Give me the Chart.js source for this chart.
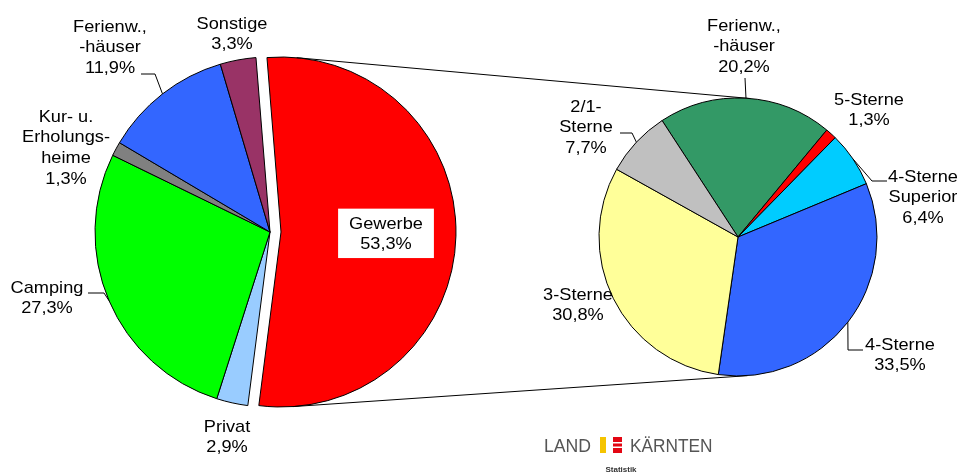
<!DOCTYPE html>
<html>
<head>
<meta charset="utf-8">
<script src="https://cdn.jsdelivr.net/npm/chart.js@4.4.1/dist/chart.umd.min.js"></script>
<style>
  html, body { margin:0; padding:0; background:#fff; }
  #wrap { position:relative; width:960px; height:475px; overflow:hidden; }
  #wrap canvas { position:absolute; left:0; top:0; }
</style>
</head>
<body>
<div id="wrap">
  <canvas id="cLeft" width="960" height="475"></canvas>
  <canvas id="cLeftX" width="960" height="475"></canvas>
  <canvas id="cRight" width="960" height="475"></canvas>
</div>
<script>
// ---------- DATA ----------
const leftCategories = ["Gewerbe", "Privat", "Camping", "Kur- u. Erholungsheime", "Ferienw., -häuser", "Sonstige"];
const leftValues = [53.3, 2.9, 27.3, 1.3, 11.9, 3.3];
const leftLabelLines = [
  ["Gewerbe", "53,3%"],
  ["Privat", "2,9%"],
  ["Camping", "27,3%"],
  ["Kur- u.", "Erholungs-", "heime", "1,3%"],
  ["Ferienw.,", "-häuser", "11,9%"],
  ["Sonstige", "3,3%"]
];
const leftColors = ["#FF0000", "#99CCFF", "#00FF00", "#808080", "#3366FF", "#993366"];

const rightCategories = ["Ferienw., -häuser", "5-Sterne", "4-Sterne Superior", "4-Sterne", "3-Sterne", "2/1-Sterne"];
const rightValues = [20.2, 1.3, 6.4, 33.5, 30.8, 7.7];
const rightLabelLines = [
  ["Ferienw.,", "-häuser", "20,2%"],
  ["5-Sterne", "1,3%"],
  ["4-Sterne", "Superior", "6,4%"],
  ["4-Sterne", "33,5%"],
  ["3-Sterne", "30,8%"],
  ["2/1-", "Sterne", "7,7%"]
];
const rightColors = ["#339966", "#FF0000", "#00CCFF", "#3366FF", "#FFFF99", "#C0C0C0"];

// ---------- LAYOUT (positions only) ----------
const LEFT_CX = 270, LEFT_CY = 232, LEFT_R = 175, EXPLODE = 11;
const RIGHT_CX = 738, RIGHT_CY = 237, RIGHT_R = 139;
const FONT_PX = 17, LINE_H = 20.7, XSCALE = 1.07;
// label block: centre x, first-line y, leader (elbow x,y, end x) or null
const leftLabelPos = [
  {x:386, y:224, box:true},
  {x:227, y:427},
  {x:47,  y:288, leader:{ex:104, ey:293, hx:88}},
  {x:66,  y:117},
  {x:110, y:27,  leader:{ex:155, ey:74, hx:141}},
  {x:232, y:24}
];
const rightLabelPos = [
  {x:744, y:26,  leader:{ex:745, ey:78, hx:745}},
  {x:869, y:100},
  {x:923, y:177, leader:{ex:872, ey:181, hx:887}},
  {x:900, y:345, leader:{ex:848, ey:350, hx:863}},
  {x:578, y:295},
  {x:586, y:107, leader:{ex:632, ey:133, hx:620}}
];

function padFor(cx, cy, r) {
  const h = r + 6;
  return {left: cx - h, right: 960 - (cx + h), top: cy - h, bottom: 475 - (cy + h)};
}

function drawText(ctx, line, x, y, font) {
  ctx.save();
  ctx.translate(x, y);
  ctx.scale(XSCALE, 1);
  ctx.font = font;
  ctx.fillText(line, 0, 0);
  ctx.restore();
}

// getArcs returns the arc elements whose geometry anchors the leader lines
function labelPlugin(lines, pos, getArcs) {
  return {
    id: 'labels',
    afterDatasetsDraw(chart) {
      const ctx = chart.ctx;
      const arcs = getArcs ? getArcs() : chart.getDatasetMeta(0).data;
      ctx.save();
      arcs.forEach((arc, i) => {
        const p = pos[i];
        const ls = lines[i];
        if (p.leader) {
          const mid = (arc.startAngle + arc.endAngle) / 2;
          const px = arc.x + Math.cos(mid) * arc.outerRadius;
          const py = arc.y + Math.sin(mid) * arc.outerRadius;
          ctx.strokeStyle = '#000';
          ctx.lineWidth = 1;
          ctx.beginPath();
          ctx.moveTo(px, py);
          ctx.lineTo(p.leader.ex, p.leader.ey);
          ctx.lineTo(p.leader.hx, p.leader.ey);
          ctx.stroke();
        }
        const font = FONT_PX + 'px "Liberation Sans", Arial, sans-serif';
        if (p.box) {
          ctx.font = font;
          let w = 0;
          ls.forEach(l => { w = Math.max(w, ctx.measureText(l).width * XSCALE); });
          const bw = w + 22, bh = ls.length * LINE_H + 8;
          ctx.fillStyle = '#fff';
          ctx.fillRect(p.x - bw / 2, p.y - LINE_H / 2 - 5, bw, bh);
        }
        ctx.fillStyle = '#000';
        ctx.textAlign = 'center';
        ctx.textBaseline = 'middle';
        ls.forEach((l, k) => drawText(ctx, l, p.x, p.y + k * LINE_H, font));
      });
      ctx.restore();
    }
  };
}

Chart.defaults.animation = false;
Chart.defaults.responsive = false;
Chart.defaults.plugins.legend.display = false;
Chart.defaults.plugins.tooltip.enabled = false;

// Left pie: all slices except the exploded one
const chartLeft = new Chart(document.getElementById('cLeft'), {
  type: 'pie',
  data: {
    labels: leftCategories,
    datasets: [{
      data: leftValues,
      backgroundColor: c => c.dataIndex === 0 ? 'rgba(0,0,0,0)' : leftColors[c.dataIndex],
      borderColor: c => c.dataIndex === 0 ? 'rgba(0,0,0,0)' : '#000',
      borderWidth: 1,
      radius: LEFT_R,
      rotation: -4.6
    }]
  },
  options: { layout: { padding: padFor(LEFT_CX, LEFT_CY, LEFT_R) } }
});

// Left pie: exploded slice, same data, centre shifted outwards
const chartLeftX = new Chart(document.getElementById('cLeftX'), {
  type: 'pie',
  data: {
    labels: leftCategories,
    datasets: [{
      data: leftValues,
      backgroundColor: c => c.dataIndex === 0 ? leftColors[0] : 'rgba(0,0,0,0)',
      borderColor: c => c.dataIndex === 0 ? '#000' : 'rgba(0,0,0,0)',
      borderWidth: 1,
      radius: LEFT_R,
      rotation: -4.6
    }]
  },
  options: { layout: { padding: padFor(LEFT_CX + EXPLODE, LEFT_CY, LEFT_R) } },
  plugins: [labelPlugin(leftLabelLines, leftLabelPos, () => chartLeft.getDatasetMeta(0).data)]
});

// connector lines: external tangents between exploded slice circle and right pie
const connectorPlugin = {
  id: 'connectors',
  beforeDatasetsDraw(chart) {
    const a = chartLeftX.getDatasetMeta(0).data[0];
    const b = chart.getDatasetMeta(0).data[0];
    const dx = b.x - a.x, dy = b.y - a.y, d = Math.hypot(dx, dy);
    const base = Math.atan2(dy, dx);
    const phi = Math.acos((a.outerRadius - b.outerRadius) / d);
    const ctx = chart.ctx;
    ctx.save();
    ctx.strokeStyle = '#000';
    ctx.lineWidth = 1;
    [base - phi, base + phi].forEach(t => {
      const nx = Math.cos(t), ny = Math.sin(t);
      ctx.beginPath();
      ctx.moveTo(a.x + nx * a.outerRadius, a.y + ny * a.outerRadius);
      ctx.lineTo(b.x + nx * b.outerRadius, b.y + ny * b.outerRadius);
      ctx.stroke();
    });
    ctx.restore();
  }
};

const logoPlugin = {
  id: 'logo',
  afterDraw(chart) {
    const ctx = chart.ctx;
    ctx.save();
    ctx.fillStyle = '#555';
    ctx.textBaseline = 'middle';
    ctx.textAlign = 'left';
    ctx.font = '18px "Liberation Sans", Arial, sans-serif';
    ctx.save(); ctx.translate(544, 447); ctx.scale(0.98, 1); ctx.fillText('LAND', 0, 0); ctx.restore();
    ctx.save(); ctx.translate(630, 447); ctx.scale(0.96, 1); ctx.fillText('KÄRNTEN', 0, 0); ctx.restore();
    ctx.fillStyle = '#F5C400';
    ctx.fillRect(600, 437, 6, 16);
    ctx.fillStyle = '#E30613';
    ctx.fillRect(613, 437, 9, 5);
    ctx.fillRect(613, 443.5, 9, 3);
    ctx.fillRect(613, 448, 9, 5);
    ctx.fillStyle = '#333';
    ctx.textAlign = 'center';
    ctx.font = 'bold 8px "Liberation Sans", Arial, sans-serif';
    ctx.fillText('Statistik', 621, 470);
    ctx.restore();
  }
};

const chartRight = new Chart(document.getElementById('cRight'), {
  type: 'pie',
  data: {
    labels: rightCategories,
    datasets: [{
      data: rightValues,
      backgroundColor: rightColors,
      borderColor: '#000',
      borderWidth: 1,
      radius: RIGHT_R,
      rotation: -33.1
    }]
  },
  options: { layout: { padding: padFor(RIGHT_CX, RIGHT_CY, RIGHT_R) } },
  plugins: [connectorPlugin, labelPlugin(rightLabelLines, rightLabelPos), logoPlugin]
});
</script>
</body>
</html>
